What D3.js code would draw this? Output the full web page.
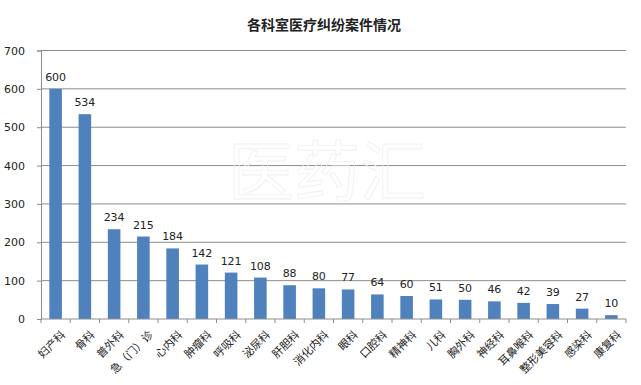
<!DOCTYPE html>
<html>
<head>
<meta charset="utf-8">
<script src="https://cdn.jsdelivr.net/npm/d3@7"></script>
<style>
  body { margin: 0; background: #fff; }
  svg { display: block; font-family: "Noto Sans CJK SC", "DejaVu Sans", sans-serif; }
</style>
</head>
<body>
<svg id="chart" width="641" height="385"></svg>
<script>
// departments and case counts
const departments = ['妇产科', '骨科', '普外科', '急（门）诊', '心内科', '肿瘤科', '呼吸科', '泌尿科', '肝胆科', '消化内科',
  '眼科', '口腔科', '精神科', '儿科', '胸外科', '神经科', '耳鼻喉科', '整形美容科', '感染科', '康复科'];
const cases = [600, 534, 234, 215, 184, 142, 121, 108, 88, 80, 77, 64, 60, 51, 50, 46, 42, 39, 27, 10];
const yTicks = [0, 100, 200, 300, 400, 500, 600, 700];

function renderChart() {
  const svg = d3.select('#chart');
  const left = 41, right = 626, top = 50.5, bottom = 319;

  const x = d3.scaleBand().domain(departments).range([left, right]).paddingInner(0.57).paddingOuter(0.285);
  const y = d3.scaleLinear().domain([0, 700]).range([bottom, top]);

  // title
  svg.append('text')
    .attr('x', 324).attr('y', 30)
    .attr('text-anchor', 'middle')
    .attr('font-size', 14).attr('font-weight', 'bold')
    .attr('fill', '#222')
    .text('各科室医疗纠纷案件情况');

  // gridlines
  svg.append('g').selectAll('line')
    .data(yTicks.filter(t => t > 0))
    .enter().append('line')
    .attr('x1', left).attr('x2', right)
    .attr('y1', d => y(d)).attr('y2', d => y(d))
    .attr('stroke', '#8c8c8c').attr('stroke-width', 1);

  // watermark
  svg.append('text')
    .attr('x', 327).attr('y', 196)
    .attr('text-anchor', 'middle')
    .attr('font-size', 66)
    .attr('fill', 'none').attr('stroke', '#edf1f1').attr('stroke-width', 0.8)
    .text('医药汇');

  // y axis
  const yAxis = d3.axisLeft(y).tickValues(yTicks).tickSize(4).tickPadding(12);
  const gy = svg.append('g').attr('transform', `translate(${left},0)`).call(yAxis);
  gy.select('.domain').attr('stroke', '#8c8c8c');
  gy.selectAll('.tick line').attr('stroke', '#8c8c8c');
  gy.selectAll('.tick text').attr('font-size', 11).attr('fill', '#222')
    .attr('font-family', '"DejaVu Sans", sans-serif');

  // bars
  svg.append('g').selectAll('rect')
    .data(cases)
    .enter().append('rect')
    .attr('x', (d, i) => x(departments[i]))
    .attr('y', d => y(d))
    .attr('width', x.bandwidth())
    .attr('height', d => bottom - y(d))
    .attr('fill', '#4f81bd');

  // value labels
  svg.append('g').selectAll('text')
    .data(cases)
    .enter().append('text')
    .attr('x', (d, i) => x(departments[i]) + x.bandwidth() / 2)
    .attr('y', d => y(d) - 8)
    .attr('text-anchor', 'middle')
    .attr('font-size', 11)
    .attr('font-family', '"DejaVu Sans", sans-serif')
    .attr('fill', '#222')
    .text(d => d);

  // x axis with ticks between categories
  const step = x.step();
  const gx = svg.append('g');
  gx.append('line').attr('x1', left).attr('x2', right).attr('y1', bottom).attr('y2', bottom).attr('stroke', '#8c8c8c');
  gx.selectAll('line.tk')
    .data(d3.range(departments.length + 1))
    .enter().append('line').attr('class', 'tk')
    .attr('x1', i => left + i * step).attr('x2', i => left + i * step)
    .attr('y1', bottom).attr('y2', bottom + 4)
    .attr('stroke', '#8c8c8c');

  gx.selectAll('text')
    .data(departments)
    .enter().append('text')
    .attr('transform', d => `translate(${x(d) + x.bandwidth() / 2 + 5},${bottom + 11}) rotate(-45)`)
    .attr('text-anchor', 'end')
    .attr('dy', '0.7em')
    .attr('font-size', 11)
    .attr('fill', '#222')
    .text(d => d);
}

renderChart();
</script>
</body>
</html>
